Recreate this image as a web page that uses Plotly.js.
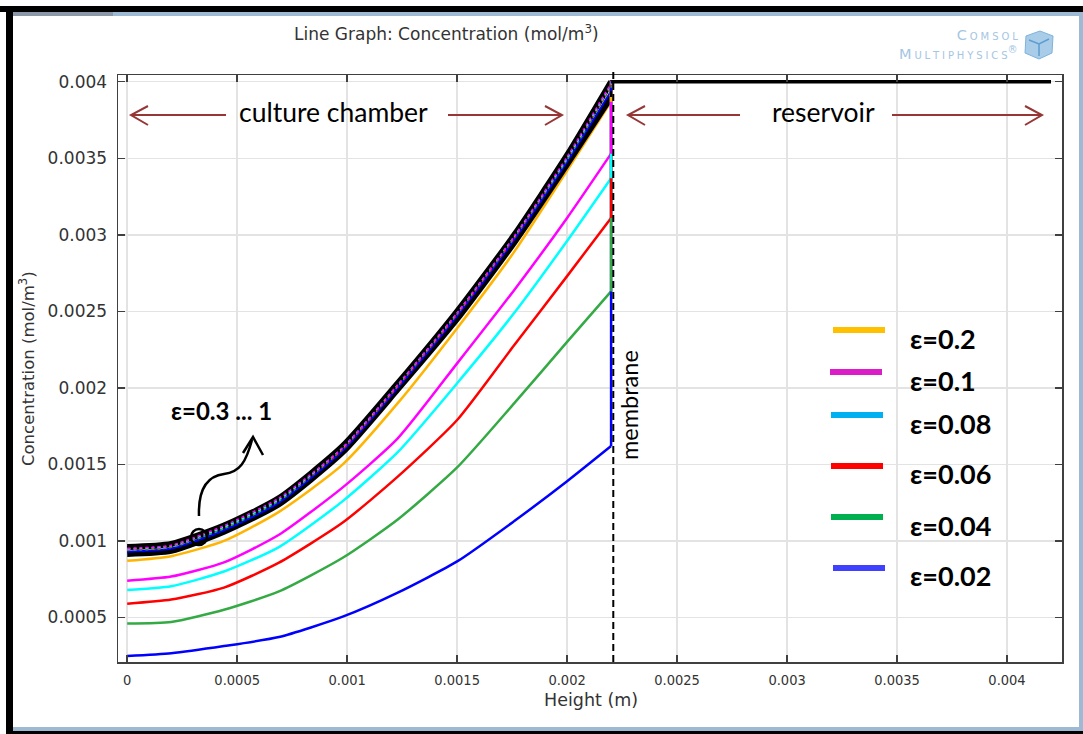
<!DOCTYPE html>
<html>
<head>
<meta charset="utf-8">
<script src="https://cdn.plot.ly/plotly-3.0.1.min.js"></script>
<style>
  html, body { margin:0; padding:0; background:#fff; }
  #wrap { position:relative; width:1083px; height:734px; overflow:hidden; background:#fff; }
  #chart { position:absolute; left:0; top:0; width:1083px; height:734px; }
  .fr { position:absolute; pointer-events:none; }
</style>
</head>
<body>
<div id="wrap">
  <div id="chart"></div>
  <div class="fr" style="left:0;top:6px;width:1083px;height:6px;background:#000;"></div>
  <div class="fr" style="left:13px;top:12px;width:1070px;height:4px;background:#9db9d4;"></div>
  <div class="fr" style="left:13px;top:12px;width:100px;height:4px;background:#8a98a8;"></div>
  <div class="fr" style="left:6px;top:6px;width:7px;height:728px;background:#000;"></div>
  <div class="fr" style="left:1079px;top:12px;width:4px;height:722px;background:#9db9d4;"></div>
  <div class="fr" style="left:13px;top:727px;width:1070px;height:4px;background:#9db9d4;"></div>
  <div class="fr" style="left:6px;top:731px;width:1077px;height:3px;background:#000;"></div>
</div>
<script>
// ---------------- data ----------------
const heights = [0, 0.0002, 0.00044, 0.00069, 0.00098, 0.00123, 0.0015, 0.00176, 0.002, 0.0022];
const reservoirHeights = [0.0022, 0.0042];
const reservoirConc = [0.004, 0.004];

const conc_e002 = [0.000248, 0.000266, 0.000313, 0.000372, 0.000505, 0.000662, 0.000866, 0.00113, 0.00139, 0.00162];
const conc_e004 = [0.00046, 0.00047, 0.00055, 0.00067, 0.00089, 0.00114, 0.00148, 0.0019, 0.0023, 0.00263];
const conc_e006 = [0.00059, 0.000617, 0.000695, 0.000858, 0.00112, 0.00142, 0.00179, 0.00228, 0.00273, 0.00311];
const conc_e008 = [0.00068, 0.000704, 0.0008, 0.00096, 0.00126, 0.00158, 0.00203, 0.00249, 0.00296, 0.00337];
const conc_e01  = [0.00074, 0.000767, 0.00086, 0.00104, 0.00135, 0.00167, 0.00216, 0.00264, 0.00311, 0.00353];
const conc_e02  = [0.00087, 0.0009, 0.001, 0.00119, 0.0015, 0.0019, 0.00239, 0.00289, 0.00342, 0.00387];
const conc_e03  = [0.000915, 0.000935, 0.00106, 0.00124, 0.00158, 0.00199, 0.00245, 0.00295, 0.00346, 0.0039];
const conc_e04  = [0.00093, 0.00095, 0.00107, 0.00125, 0.00159, 0.002, 0.00247, 0.00297, 0.00348, 0.00394];
const conc_e05  = [0.000938, 0.000958, 0.00108, 0.00126, 0.0016, 0.00201, 0.00248, 0.00298, 0.00349, 0.00396];
const conc_e06  = [0.000944, 0.000964, 0.00109, 0.00127, 0.0016, 0.00201, 0.00248, 0.00298, 0.0035, 0.00397];
const conc_e07  = [0.000948, 0.000968, 0.00109, 0.00127, 0.00161, 0.00202, 0.00249, 0.00299, 0.0035, 0.00398];
const conc_e08  = [0.000952, 0.000972, 0.0011, 0.00128, 0.00161, 0.00202, 0.00249, 0.00299, 0.00351, 0.00399];
const conc_e09  = [0.000956, 0.000976, 0.0011, 0.00128, 0.00162, 0.00203, 0.0025, 0.003, 0.00351, 0.00399];
const conc_e1   = [0.00096, 0.00098, 0.0011, 0.00128, 0.00162, 0.00203, 0.0025, 0.003, 0.00352, 0.004];

const membraneHeight = 0.00221;

const legendLabels = ['ε=0.2', 'ε=0.1', 'ε=0.08', 'ε=0.06', 'ε=0.04', 'ε=0.02'];
const legendColors = ['#FFC000', '#DC1CC8', '#00B0F0', '#FF0000', '#00B050', '#4040FF'];

const xTickVals = [0, 0.0005, 0.001, 0.0015, 0.002, 0.0025, 0.003, 0.0035, 0.004];
const xTickText = ['0', '0.0005', '0.001', '0.0015', '0.002', '0.0025', '0.003', '0.0035', '0.004'];
const yTickVals = [0.0005, 0.001, 0.0015, 0.002, 0.0025, 0.003, 0.0035, 0.004];
const yTickText = ['0.0005', '0.001', '0.0015', '0.002', '0.0025', '0.003', '0.0035', '0.004'];

// ---------------- layout geometry ----------------
const L = 118, T = 75, W = 944, H = 587;
function P(px, py) { return ((px - L) / W).toFixed(5) + ',' + (1 - (py - T) / H).toFixed(5); }
function PX(px) { return (px - L) / W; }
function PY(py) { return 1 - (py - T) / H; }

const chamberTraces = [];
const reservoirTraces = [];
function series(vals, color, width, dash) {
  chamberTraces.push({
    type: 'scatter', mode: 'lines', x: heights, y: vals,
    line: { color: color, width: width, dash: dash || 'solid', shape: 'spline', smoothing: 0.6 },
    hoverinfo: 'skip', showlegend: false
  });
  reservoirTraces.push({
    type: 'scatter', mode: 'lines',
    x: [heights[heights.length - 1]].concat(reservoirHeights),
    y: [vals[vals.length - 1]].concat(reservoirConc),
    line: { color: color, width: Math.min(width, 2.5), dash: dash || 'solid' },
    hoverinfo: 'skip', showlegend: false
  });
}

series(conc_e002, '#0000FF', 2.5);
series(conc_e004, '#33AA44', 2.5);
series(conc_e006, '#FF0000', 2.5);
series(conc_e008, '#00FFFF', 2.5);
series(conc_e01, '#FF00FF', 2.5);
series(conc_e02, '#FFB400', 2.5);
series(conc_e03, '#000000', 6);
series(conc_e1, '#000000', 6);
series(conc_e09, '#000000', 4);
series(conc_e04, '#0000FF', 2);
series(conc_e05, '#33AA44', 1.5, 'dot');
series(conc_e06, '#FF0000', 1.5, 'dot');
series(conc_e07, '#00FFFF', 1.5, 'dot');
series(conc_e08, '#FF00FF', 1.5, 'dot');
// black reservoir line of the last series drawn on top
reservoirTraces.push({
  type: 'scatter', mode: 'lines', x: reservoirHeights, y: reservoirConc,
  line: { color: '#000000', width: 3.5 }, hoverinfo: 'skip', showlegend: false
});
const traces = chamberTraces.concat(reservoirTraces);

const arrowColor = '#953735';
const shapes = [];
function seg(x0, y0, x1, y1, color, width) {
  shapes.push({ type: 'line', xref: 'paper', yref: 'paper', x0: PX(x0), y0: PY(y0), x1: PX(x1), y1: PY(y1),
    line: { color: color, width: width } });
}
function pathPx(d, color, width, fill) {
  shapes.push({ type: 'path', xref: 'paper', yref: 'paper', path: d,
    line: { color: color, width: width }, fillcolor: fill || 'rgba(0,0,0,0)' });
}
// culture chamber arrows
seg(131, 115, 226, 115, arrowColor, 2);
pathPx('M' + P(148, 106) + ' L' + P(131, 115) + ' L' + P(148, 125), arrowColor, 2);
seg(448, 115, 562, 115, arrowColor, 2);
pathPx('M' + P(545, 106) + ' L' + P(562, 115) + ' L' + P(545, 125), arrowColor, 2);
// reservoir arrows
seg(628, 115, 740, 115, arrowColor, 2);
pathPx('M' + P(645, 106) + ' L' + P(628, 115) + ' L' + P(645, 125), arrowColor, 2);
seg(892, 115, 1042, 115, arrowColor, 2);
pathPx('M' + P(1025, 106) + ' L' + P(1042, 115) + ' L' + P(1025, 125), arrowColor, 2);
// curved arrow + circle
pathPx('M' + P(199, 516) + ' C' + P(198, 488) + ' ' + P(208, 476) + ' ' + P(224, 474) +
       ' C' + P(240, 472) + ' ' + P(246, 462) + ' ' + P(252, 440), '#000', 2.5);
pathPx('M' + P(243, 453) + ' L' + P(253, 437) + ' L' + P(263, 455), '#000', 2.5);
shapes.push({ type: 'circle', xref: 'paper', yref: 'paper', x0: PX(191), x1: PX(207), y0: PY(529), y1: PY(545),
  line: { color: '#000', width: 2.5 } });
// membrane dashed line
shapes.push({ type: 'line', xref: 'x', yref: 'paper', x0: membraneHeight, x1: membraneHeight, y0: 0, y1: PY(70),
  line: { color: '#000', width: 2, dash: '7px,4px' } });
// legend samples
const legendY = [330, 372, 415, 466, 517, 568];
const legendX0 = [833, 830, 831, 831, 831, 833];
legendLabels.forEach((lab, i) => {
  seg(legendX0[i], legendY[i], legendX0[i] + 52, legendY[i], legendColors[i], 6);
});
// COMSOL cube
pathPx('M' + P(1026, 36) + ' L' + P(1040, 31) + ' L' + P(1053, 36) + ' L' + P(1052, 53) + ' L' + P(1039, 59) + ' L' + P(1025, 53) + ' Z', '#7fb2dc', 1, '#a9cde9');
pathPx('M' + P(1029, 40) + ' L' + P(1039, 44) + ' L' + P(1049, 39) + ' M' + P(1039, 44) + ' L' + P(1039, 56), '#5f9ccf', 1.5);

const annotations = [];
function ann(text, px, py, font, opts) {
  annotations.push(Object.assign({ xref: 'paper', yref: 'paper', x: PX(px), y: PY(py), text: text,
    showarrow: false, font: font, xanchor: 'center', yanchor: 'middle' }, opts || {}));
}
const condensed = '"DejaVu Sans Condensed", "DejaVu Sans", sans-serif';
const dejavu = '"DejaVu Sans", sans-serif';
ann('Line Graph: Concentration (mol/m<sup>3</sup>)', 446, 33, { family: dejavu, size: 17, color: '#333' });
ann('Height (m)', 591, 700, { family: dejavu, size: 17.5, color: '#333' });
ann('Concentration (mol/m<sup>3</sup>)', 27, 369, { family: dejavu, size: 16.5, color: '#333' }, { textangle: -90 });
ann('culture chamber', 333, 112, { family: 'Lato, sans-serif', size: 26.5, color: '#000' });
ann('reservoir', 823, 112, { family: 'Lato, sans-serif', size: 26.5, color: '#000' });
ann('membrane', 629, 405, { family: 'Lato, sans-serif', size: 23.5, color: '#000' }, { textangle: -90 });
ann('ε=0.3 ... 1', 221, 410, { family: 'Lato, sans-serif', size: 24, color: '#000', weight: 'bold' });
const legendTextY = [338, 380, 423, 473, 525, 575];
legendLabels.forEach((lab, i) => {
  ann(lab, 908, legendTextY[i], { family: 'Lato, sans-serif', size: 27, color: '#000', weight: 'bold' }, { xanchor: 'left' });
});
const ts = '\u2009';
ann(['C', 'o', 'm', 's', 'o', 'l'].join(ts) + '<br>' + ['M', 'u', 'l', 't', 'i', 'p', 'h', 'y', 's', 'i', 'c', 's'].join(ts) + '<sup>®</sup>',
  1020, 45, { family: dejavu, size: 14.5, color: '#a5c6e2', variant: 'small-caps' }, { xanchor: 'right', align: 'right' });

const layout = {
  width: 1083, height: 734,
  margin: { l: L, r: 1083 - L - W, t: T, b: 734 - T - H, pad: 0 },
  paper_bgcolor: '#fff', plot_bgcolor: '#fff',
  showlegend: false,
  xaxis: {
    range: [-0.0000418, 0.00425], tickmode: 'array', tickvals: xTickVals, ticktext: xTickText,
    showgrid: true, gridcolor: '#e3e3e3', gridwidth: 1.5, zeroline: false,
    showline: true, linecolor: '#404040', linewidth: 1.5, mirror: 'ticks',
    ticks: 'inside', ticklen: 7, tickcolor: '#404040', tickwidth: 1.5,
    tickfont: { family: condensed, size: 14.5, color: '#333' }, ticklabelstandoff: 4
  },
  yaxis: {
    range: [0.000209, 0.004044], tickmode: 'array', tickvals: yTickVals, ticktext: yTickText,
    showgrid: true, gridcolor: '#e3e3e3', gridwidth: 1.5, zeroline: false,
    showline: true, linecolor: '#404040', linewidth: 1.5, mirror: 'ticks',
    ticks: 'inside', ticklen: 7, tickcolor: '#404040', tickwidth: 1.5,
    tickfont: { family: dejavu, size: 17, color: '#333' }, ticklabelstandoff: 6
  },
  shapes: shapes,
  annotations: annotations
};

Plotly.newPlot('chart', traces, layout, { displayModeBar: false, staticPlot: true });
</script>
</body>
</html>
